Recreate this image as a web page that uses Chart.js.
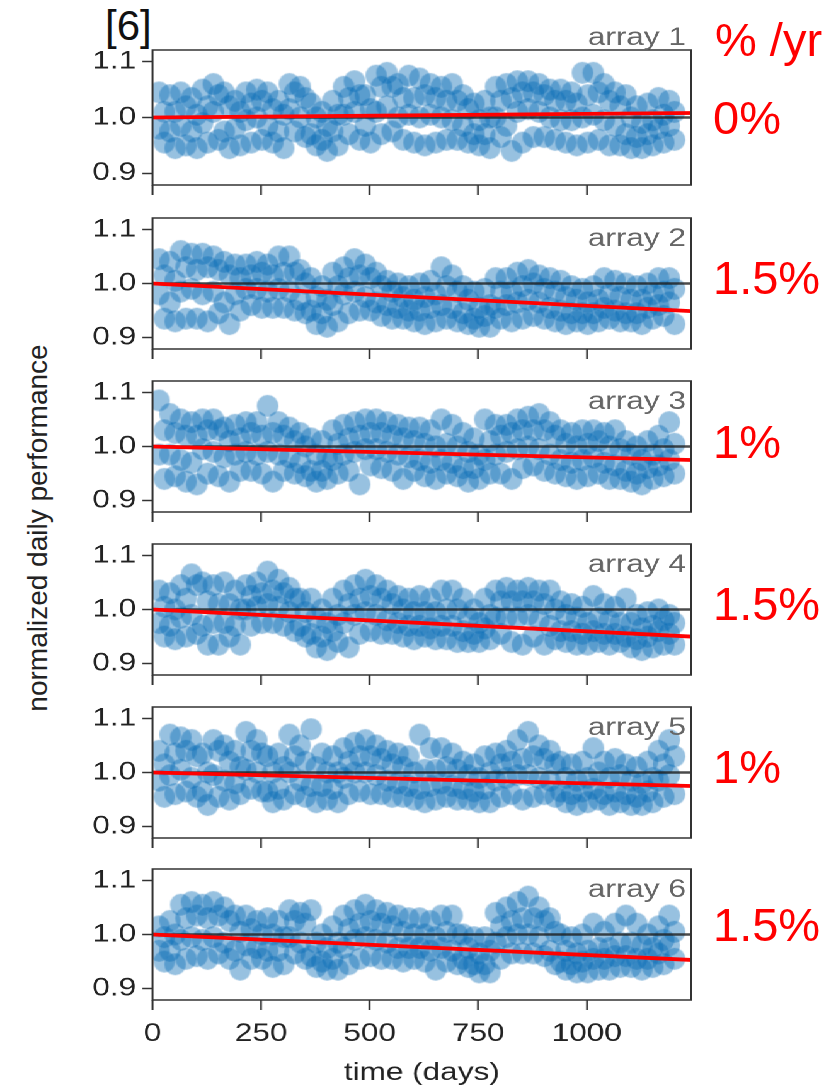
<!DOCTYPE html>
<html>
<head>
<meta charset="utf-8">
<script src="https://cdn.jsdelivr.net/npm/chart.js@4.4.1/dist/chart.umd.min.js"></script>
<style>
  body { margin: 0; background: #fff; width: 827px; height: 1090px; overflow: hidden; position: relative;
         font-family: "Liberation Sans", Arial, sans-serif; }
  #stretch { position: absolute; left: 0; top: 0; width: 660px; height: 1090px;
             transform: scaleX(1.26); transform-origin: 0 0; }
  .panel { position: absolute; }
  .red { position: absolute; color: #f00; font-size: 47px; line-height: 1; white-space: nowrap; }
  #ref { position: absolute; left: 105px; top: 5px; font-size: 42px; line-height: 1; color: #111; }
  #ylab { position: absolute; left: 38px; top: 528px; font-size: 28px; color: #222; white-space: nowrap;
          transform: translate(-50%, -50%) rotate(-90deg); }
</style>
</head>
<body>
<div id="ref">[6]</div>
<div id="ylab">normalized daily performance</div>
<div id="stretch"></div>
<script>
// sample days (two interleaved sets)
const daysA = [15,40,65,90,115,140,165,190,215,240,265,290,315,340,365,390,415,440,465,490,515,540,565,590,
               615,640,665,690,715,740,765,790,815,840,865,890,915,940,965,990,1015,1040,1065,1090,1115,1140,1165,1190];
const daysB = [27,52,77,102,127,152,177,202,227,252,277,302,327,352,377,402,427,452,477,502,527,552,577,602,
               627,652,677,702,727,752,777,802,827,852,877,902,927,952,977,1002,1027,1052,1077,1102,1127,1152,1177,1202];

// array 1
const top1 = [1.045,1.04,1.045,1.035,1.05,1.06,1.045,1.03,1.045,1.05,1.045,1.03,1.06,1.055,1.025,1.01,1.03,1.055,1.065,1.04,1.075,1.08,1.06,1.075,1.07,1.06,1.055,1.06,1.04,1.025,1.03,1.055,1.06,1.065,1.065,1.06,1.05,1.05,1.045,1.08,1.08,1.06,1.045,1.04,1.02,1.025,1.035,1.03];
const upper1 = [1.01,1.01,1.02,1.005,1.02,1.04,1.02,1.01,1.025,1.03,1.015,1.005,1.045,1.035,1.0,0.985,1.005,1.035,1.04,1.015,1.055,1.055,1.035,1.035,1.04,1.035,1.03,1.03,1.015,0.995,1.0,1.03,1.035,1.045,1.045,1.04,1.03,1.03,1.025,1.04,1.045,1.03,1.02,1.0,0.99,0.995,1.005,1.01];
const lower1 = [0.98,0.975,0.985,0.975,0.99,1.01,0.975,0.98,0.995,1.0,0.985,0.975,1.015,1.0,0.97,0.96,0.975,1.005,1.01,0.985,1.01,1.02,1.0,1.005,1.0,1.005,1.0,0.995,0.985,0.97,0.97,1.0,0.985,1.01,1.015,1.01,1.0,0.995,0.995,1.0,1.005,0.995,0.985,0.97,0.965,0.97,0.98,0.985];
const bottom1 = [0.955,0.945,0.95,0.945,0.955,0.96,0.945,0.95,0.955,0.96,0.955,0.945,0.975,0.965,0.95,0.94,0.95,0.97,0.96,0.955,0.97,0.975,0.96,0.955,0.95,0.955,0.96,0.96,0.955,0.95,0.945,0.965,0.94,0.955,0.965,0.965,0.96,0.955,0.95,0.955,0.96,0.95,0.95,0.945,0.945,0.95,0.955,0.96];

// array 2
const top2 = [1.045,1.04,1.06,1.055,1.055,1.05,1.04,1.035,1.035,1.04,1.035,1.05,1.05,1.025,1.01,0.995,1.02,1.03,1.045,1.035,1.02,1.005,1.0,0.995,1.0,1.005,1.03,1.015,0.995,0.985,0.99,1.01,1.01,1.02,1.025,1.015,1.01,1.005,0.995,0.99,0.995,1.01,1.005,1.0,0.995,1.0,1.01,1.01];
const upper2 = [1.015,1.005,1.03,1.025,1.03,1.025,1.015,1.01,1.015,1.02,1.015,1.02,1.02,1.0,0.975,0.97,0.995,1.01,1.015,1.01,0.995,0.985,0.975,0.97,0.975,0.98,0.995,0.985,0.97,0.955,0.96,0.985,0.985,0.995,1.0,0.99,0.985,0.975,0.97,0.965,0.97,0.98,0.975,0.97,0.97,0.98,0.985,0.99];
const lower2 = [0.98,0.965,0.985,0.99,0.98,0.985,0.965,0.98,0.99,0.99,0.985,0.99,0.985,0.97,0.95,0.945,0.96,0.98,0.985,0.975,0.965,0.96,0.955,0.95,0.95,0.955,0.96,0.955,0.945,0.935,0.94,0.955,0.96,0.965,0.97,0.965,0.955,0.95,0.945,0.945,0.945,0.955,0.95,0.945,0.945,0.955,0.96,0.965];
const bottom2 = [0.935,0.93,0.935,0.935,0.93,0.945,0.925,0.95,0.96,0.955,0.955,0.955,0.95,0.945,0.925,0.92,0.93,0.945,0.95,0.95,0.94,0.935,0.935,0.93,0.925,0.93,0.935,0.93,0.925,0.92,0.92,0.935,0.93,0.935,0.94,0.935,0.93,0.925,0.93,0.925,0.93,0.935,0.93,0.93,0.925,0.935,0.94,0.925];

// array 3
const top3 = [1.085,1.06,1.05,1.045,1.05,1.05,1.035,1.04,1.045,1.045,1.075,1.045,1.035,1.025,1.015,1.01,1.03,1.04,1.045,1.05,1.05,1.045,1.04,1.035,1.035,1.03,1.05,1.04,1.025,1.015,1.05,1.04,1.04,1.05,1.055,1.06,1.045,1.03,1.025,1.03,1.03,1.025,1.03,1.01,1.0,1.01,1.02,1.045];
const upper3 = [1.03,1.025,1.02,1.02,1.03,1.03,1.01,1.015,1.025,1.02,1.025,1.02,1.01,1.0,0.985,0.98,1.005,1.015,1.02,1.025,1.025,1.02,1.015,1.01,1.005,1.0,1.005,1.0,0.99,0.985,1.01,1.02,1.025,1.03,1.03,1.03,1.02,1.005,1.0,1.005,1.01,1.0,0.995,0.985,0.975,0.985,0.995,1.005];
const lower3 = [0.985,0.985,0.975,0.97,0.995,0.99,0.98,0.985,0.99,0.985,0.99,0.985,0.98,0.97,0.955,0.955,0.975,0.985,0.99,0.995,0.995,0.99,0.985,0.98,0.975,0.97,0.975,0.97,0.96,0.96,0.975,0.985,0.99,0.995,1.0,0.995,0.985,0.975,0.97,0.975,0.98,0.97,0.965,0.955,0.95,0.96,0.965,0.975];
const bottom3 = [0.94,0.945,0.935,0.93,0.95,0.945,0.935,0.955,0.955,0.95,0.935,0.955,0.95,0.945,0.935,0.94,0.95,0.955,0.93,0.965,0.96,0.955,0.94,0.955,0.945,0.94,0.95,0.945,0.935,0.94,0.95,0.95,0.94,0.96,0.965,0.955,0.95,0.945,0.94,0.945,0.95,0.94,0.94,0.935,0.93,0.94,0.945,0.95];

// array 4
const top4 = [1.035,1.03,1.045,1.065,1.05,1.045,1.05,1.035,1.045,1.05,1.07,1.055,1.04,1.02,1.02,1.0,1.02,1.035,1.045,1.055,1.045,1.035,1.025,1.02,1.025,1.02,1.035,1.035,1.02,1.0,1.02,1.035,1.04,1.035,1.04,1.035,1.035,1.015,1.01,1.005,1.025,1.01,1.005,1.02,0.99,0.995,1.0,0.99];
const upper4 = [1.005,1.0,1.02,1.045,1.015,1.01,1.01,1.0,1.025,1.03,1.035,1.03,1.02,0.995,0.985,0.975,0.99,1.01,1.02,1.025,1.02,1.01,1.0,0.995,0.995,0.995,1.0,1.0,0.985,0.975,0.99,1.015,1.015,1.015,1.015,1.01,1.0,0.99,0.985,0.975,0.985,0.98,0.975,0.975,0.965,0.97,0.98,0.975];
const lower4 = [0.975,0.97,0.985,0.99,0.97,0.975,0.975,0.97,1.0,1.005,1.01,1.005,0.995,0.97,0.955,0.95,0.96,0.975,0.99,0.995,0.99,0.98,0.975,0.97,0.97,0.965,0.97,0.97,0.96,0.955,0.965,0.985,0.985,0.985,0.99,0.98,0.97,0.96,0.96,0.955,0.96,0.955,0.955,0.95,0.945,0.95,0.96,0.955];
const bottom4 = [0.95,0.945,0.95,0.955,0.935,0.935,0.95,0.935,0.97,0.975,0.975,0.97,0.96,0.95,0.93,0.925,0.94,0.93,0.955,0.96,0.955,0.955,0.95,0.945,0.95,0.945,0.945,0.94,0.94,0.94,0.945,0.955,0.94,0.935,0.95,0.935,0.945,0.94,0.935,0.935,0.94,0.935,0.94,0.93,0.925,0.93,0.935,0.935];

// array 5
const top5 = [1.04,1.07,1.065,1.06,1.035,1.06,1.05,1.04,1.075,1.06,1.03,1.035,1.07,1.05,1.08,1.035,1.03,1.045,1.055,1.06,1.05,1.04,1.035,1.03,1.07,1.045,1.045,1.035,1.02,1.015,1.03,1.035,1.04,1.06,1.075,1.05,1.04,1.02,1.015,1.02,1.045,1.02,1.025,1.015,1.01,1.02,1.04,1.06];
const upper5 = [1.015,1.035,1.04,1.03,1.0,1.04,1.02,1.01,1.04,1.035,1.0,1.01,1.03,1.02,1.01,1.0,1.0,1.02,1.03,1.03,1.025,1.015,1.01,1.0,1.005,1.005,1.01,1.005,0.995,0.99,1.0,1.015,1.02,1.025,1.03,1.025,1.015,0.99,0.985,0.99,1.0,0.99,0.995,0.985,0.98,0.99,1.015,1.03];
const lower5 = [0.985,0.995,1.005,0.99,0.965,0.995,0.985,0.98,1.005,1.0,0.965,0.97,1.0,0.985,0.975,0.975,0.97,0.99,1.0,1.0,0.995,0.985,0.98,0.975,0.97,0.975,0.98,0.975,0.97,0.965,0.97,0.985,0.99,0.995,0.995,0.99,0.985,0.965,0.96,0.965,0.97,0.96,0.965,0.96,0.955,0.965,0.985,0.995];
const bottom5 = [0.955,0.96,0.965,0.955,0.94,0.955,0.95,0.96,0.97,0.965,0.945,0.95,0.96,0.955,0.945,0.95,0.945,0.96,0.965,0.96,0.96,0.955,0.955,0.95,0.945,0.95,0.955,0.95,0.95,0.945,0.945,0.955,0.96,0.95,0.955,0.96,0.955,0.945,0.94,0.945,0.95,0.94,0.945,0.94,0.94,0.945,0.955,0.96];

// array 6
const top6 = [1.015,1.025,1.055,1.06,1.055,1.06,1.05,1.035,1.035,1.025,1.03,1.025,1.045,1.04,1.045,1.0,1.015,1.035,1.045,1.055,1.045,1.04,1.035,1.03,1.03,1.025,1.035,1.035,1.0,0.995,0.995,1.04,1.05,1.06,1.07,1.05,1.03,1.0,0.995,1.0,1.02,1.005,1.02,1.035,1.02,1.0,1.015,1.035];
const upper6 = [0.995,1.0,1.03,1.035,1.03,1.035,1.025,1.005,1.01,1.0,1.0,0.995,1.025,1.02,0.985,0.975,0.985,1.01,1.02,1.025,1.02,1.015,1.005,1.0,1.0,0.995,1.005,1.0,0.975,0.965,0.97,1.015,1.025,1.03,1.03,1.025,1.005,0.97,0.965,0.97,0.975,0.975,0.985,0.985,0.98,0.975,0.99,1.005];
const lower6 = [0.97,0.97,0.99,0.995,0.99,0.995,0.985,0.97,0.98,0.975,0.97,0.97,0.995,0.985,0.96,0.95,0.955,0.975,0.99,0.995,0.99,0.985,0.975,0.975,0.975,0.97,0.975,0.97,0.955,0.945,0.945,0.985,0.995,1.0,1.0,0.995,0.97,0.95,0.945,0.95,0.955,0.955,0.96,0.96,0.955,0.955,0.965,0.98];
const bottom6 = [0.95,0.945,0.955,0.96,0.955,0.965,0.955,0.935,0.955,0.955,0.94,0.945,0.965,0.955,0.94,0.935,0.935,0.945,0.955,0.96,0.955,0.955,0.95,0.955,0.95,0.935,0.95,0.945,0.94,0.93,0.93,0.955,0.965,0.965,0.965,0.96,0.945,0.935,0.93,0.93,0.935,0.935,0.94,0.94,0.935,0.94,0.945,0.955];

// fitted trend: value at day 0 and at the right edge
const trendStart = [1.0, 1.0, 1.0, 1.0, 1.0, 1.0];
const trendEnd = [1.008, 0.949, 0.975, 0.95, 0.975, 0.953];
const arrayNames = ['array 1', 'array 2', 'array 3', 'array 4', 'array 5', 'array 6'];
const rateLabels = ['0%', '1.5%', '1%', '1.5%', '1%', '1.5%'];
const xTicks = [0, 250, 500, 750, 1000];
const yTicks = [0.9, 1.0, 1.1];
const xMax = 1240;

const tops = [top1, top2, top3, top4, top5, top6];
const uppers = [upper1, upper2, upper3, upper4, upper5, upper6];
const lowers = [lower1, lower2, lower3, lower4, lower5, lower6];
const bottoms = [bottom1, bottom2, bottom3, bottom4, bottom5, bottom6];

// layout (page px); the chart block is stretched sideways like the source image
const SX = 1.26;
const areaTop = [50, 214, 377, 540, 703, 865];
const rateTop = [94, 254, 418, 580, 743, 901];
const areaH = 135;
const areaLeft = 153 / SX, areaRight = 701 / SX;
const yAxisW = 60, padRight = 4;
const family = '"Liberation Sans", Arial, sans-serif';

function pairs(days, vals) {
  return days.map((d, i) => ({ x: d, y: vals[i] }));
}

// marker: an ellipse narrowed by SX so it comes out round after the stretch
const dot = document.createElement('canvas');
dot.width = 19; dot.height = 24;
(function () {
  const g = dot.getContext('2d');
  g.filter = 'blur(0.7px)';
  g.fillStyle = 'rgba(8,108,180,0.42)';
  g.beginPath();
  g.ellipse(9.5, 12, 8.6, 10.9, 0, 0, Math.PI * 2);
  g.fill();
})();

const framePlugin = {
  id: 'frame',
  afterDraw(chart, args, opts) {
    const a = chart.chartArea, ctx = chart.ctx;
    ctx.save();
    ctx.strokeStyle = '#333';
    ctx.lineWidth = 1.5;
    ctx.strokeRect(a.left, a.top, a.right - a.left, a.bottom - a.top);
    ctx.font = '25px ' + family;
    ctx.fillStyle = '#666';
    ctx.textAlign = 'right';
    ctx.textBaseline = 'alphabetic';
    ctx.fillText(opts.text, a.right - 4, opts.above ? a.top - 5 : a.top + 28);
    ctx.restore();
  }
};

const holder = document.getElementById('stretch');

for (let i = 0; i < 6; i++) {
  const last = i === 5;
  const padTop = i === 0 ? 30 : 8;
  const hx = last ? 92 : 12;

  const box = document.createElement('div');
  box.className = 'panel';
  box.style.left = (areaLeft - yAxisW) + 'px';
  box.style.top = (areaTop[i] - padTop) + 'px';
  box.style.width = (areaRight - areaLeft + yAxisW + padRight) + 'px';
  box.style.height = (padTop + areaH + hx) + 'px';
  const cv = document.createElement('canvas');
  box.appendChild(cv);
  holder.appendChild(box);

  const red = document.createElement('div');
  red.className = 'red';
  red.style.left = '713px';
  red.style.top = rateTop[i] + 'px';
  red.textContent = rateLabels[i];
  document.body.appendChild(red);

  const pts = pairs(daysA, tops[i]).concat(pairs(daysB, uppers[i]), pairs(daysA, lowers[i]), pairs(daysB, bottoms[i]));

  new Chart(cv, {
    type: 'scatter',
    data: {
      datasets: [
        { type: 'line', data: [{ x: 0, y: trendStart[i] }, { x: xMax, y: trendEnd[i] }],
          borderColor: '#ff0000', borderWidth: 3.8, pointRadius: 0, order: 0 },
        { type: 'line', data: [{ x: 0, y: 1.0 }, { x: xMax, y: 1.0 }],
          borderColor: 'rgba(30,30,30,0.8)', borderWidth: 2.4, pointRadius: 0, order: 1 },
        { data: pts, pointStyle: dot, pointRadius: 11, pointHoverRadius: 11, order: 2 }
      ]
    },
    options: {
      responsive: true,
      maintainAspectRatio: false,
      animation: false,
      devicePixelRatio: 2,
      events: [],
      layout: { padding: { top: padTop, right: padRight, bottom: 0, left: 0 } },
      plugins: { legend: { display: false }, tooltip: { enabled: false },
                 frame: { text: arrayNames[i], above: i === 0 } },
      scales: {
        x: {
          type: 'linear', min: 0, max: xMax,
          afterBuildTicks: s => { s.ticks = xTicks.map(v => ({ value: v })); },
          afterFit: s => { s.height = hx; s.paddingLeft = 0; s.paddingRight = 0; },
          grid: { drawOnChartArea: false, tickLength: 10, tickWidth: 1.5, tickColor: '#333' },
          border: { display: false },
          ticks: { display: last, font: { size: 25, family: family }, color: '#222', padding: 9, maxRotation: 0,
                   callback: v => String(v) },
          title: { display: last, text: 'time (days)', font: { size: 25, family: family }, color: '#222',
                   padding: { top: 0, bottom: 4 } }
        },
        y: {
          min: 0.879, max: 1.121,
          afterBuildTicks: s => { s.ticks = yTicks.map(v => ({ value: v })); },
          afterFit: s => { s.width = yAxisW; s.paddingTop = 0; s.paddingBottom = 0; },
          grid: { drawOnChartArea: false, tickLength: 8, tickWidth: 1.5, tickColor: '#333' },
          border: { display: false },
          ticks: { font: { size: 25, family: family }, color: '#222', padding: 5,
                   callback: v => v.toFixed(1) }
        }
      }
    },
    plugins: [framePlugin]
  });
}

const hdr = document.createElement('div');
hdr.className = 'red';
hdr.style.left = '715px';
hdr.style.top = '16px';
hdr.textContent = '% /yr';
document.body.appendChild(hdr);
</script>
</body>
</html>
